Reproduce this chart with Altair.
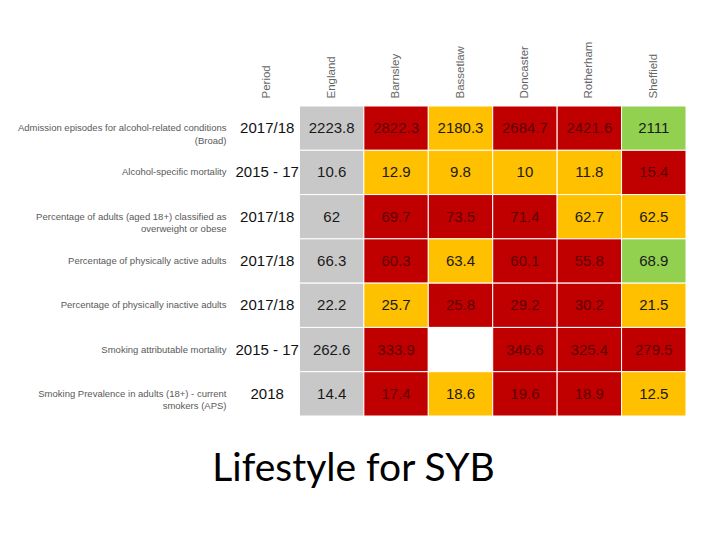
import altair as alt
import pandas as pd

areas = ["England", "Barnsley", "Bassetlaw", "Doncaster", "Rotherham", "Sheffield"]
indicators = [
    "Admission episodes for alcohol-related conditions|(Broad)",
    "Alcohol-specific mortality",
    "Percentage of adults (aged 18+) classified as|overweight or obese",
    "Percentage of physically active adults",
    "Percentage of physically inactive adults",
    "Smoking attributable mortality",
    "Smoking Prevalence in adults (18+) - current|smokers (APS)",
]
periods = ["2017/18", "2015 - 17", "2017/18", "2017/18", "2017/18", "2015 - 17", "2018"]

values = [
    [2223.8, 2822.3, 2180.3, 2684.7, 2421.6, 2111],
    [10.6, 12.9, 9.8, 10, 11.8, 15.4],
    [62, 69.7, 73.5, 71.4, 62.7, 62.5],
    [66.3, 60.3, 63.4, 60.1, 55.8, 68.9],
    [22.2, 25.7, 25.8, 29.2, 30.2, 21.5],
    [262.6, 333.9, None, 346.6, 325.4, 279.5],
    [14.4, 17.4, 18.6, 19.6, 18.9, 12.5],
]
ratings = [
    ["grey", "red", "amber", "red", "red", "green"],
    ["grey", "amber", "amber", "amber", "amber", "red"],
    ["grey", "red", "red", "red", "amber", "amber"],
    ["grey", "red", "amber", "red", "red", "green"],
    ["grey", "amber", "red", "red", "red", "amber"],
    ["grey", "red", "none", "red", "red", "red"],
    ["grey", "red", "amber", "red", "red", "amber"],
]

rows = []
for i, ind in enumerate(indicators):
    for j, a in enumerate(areas):
        v = values[i][j]
        rows.append({
            "indicator": ind,
            "area": a,
            "value": "" if v is None else str(v),
            "rating": ratings[i][j],
        })
df = pd.DataFrame(rows)
pdf = pd.DataFrame({"indicator": indicators, "area": ["Period"] * len(indicators), "period": periods})

cols = ["Period"] + areas

x = alt.X("area:N", scale=alt.Scale(domain=cols, paddingInner=0, paddingOuter=0),
          axis=alt.Axis(orient="top", title=None, labelAngle=-90, labelAlign="left",
                        labelBaseline="middle", labelPadding=8, labelFont="Liberation Sans",
                        labelFontSize=11.5, labelColor="#666666", domain=False, ticks=False))
y = alt.Y("indicator:N", scale=alt.Scale(domain=indicators, paddingInner=0, paddingOuter=0),
          axis=alt.Axis(title=None, labelExpr="split(datum.label, '|')", labelAlign="right",
                        labelPadding=9, labelFont="Liberation Sans",
                        labelFontSize=9.5, labelLineHeight=12.5, labelColor="#595959",
                        domain=False, ticks=False, labelLimit=400))

color = alt.Color("rating:N", scale=alt.Scale(
    domain=["grey", "red", "amber", "green", "none"],
    range=["#C8C8C8", "#C00000", "#FFC000", "#92D050", "#FFFFFF"]), legend=None)

cells = alt.Chart(df).mark_rect(stroke="white", strokeWidth=1).encode(x=x, y=y, color=color)

labels = alt.Chart(df).mark_text(font="Liberation Sans", fontSize=15).encode(
    x=alt.X("area:N"), y=alt.Y("indicator:N"), text="value:N",
    color=alt.condition(alt.datum.rating == "red", alt.value("#5c0000"), alt.value("#1a1a1a")),
)

period_text = alt.Chart(pdf).mark_text(font="Liberation Sans", fontSize=15, color="#111111").encode(
    x=alt.X("area:N"), y=alt.Y("indicator:N"), text="period:N")

chart = alt.layer(cells, labels, period_text).properties(
    width=451, height=310,
    autosize=alt.AutoSizeParams(type="none"),
    padding={"left": 227, "top": 98, "right": 20, "bottom": 110},
    title=alt.TitleParams("Lifestyle for SYB", orient="bottom", anchor="middle", dx=-107,
                          offset=33, font="Lato", fontSize=39, fontWeight="normal", color="#000000"),
).configure_view(stroke=None)

chart.save("out.html", embed_options={"renderer": "svg", "actions": False})
